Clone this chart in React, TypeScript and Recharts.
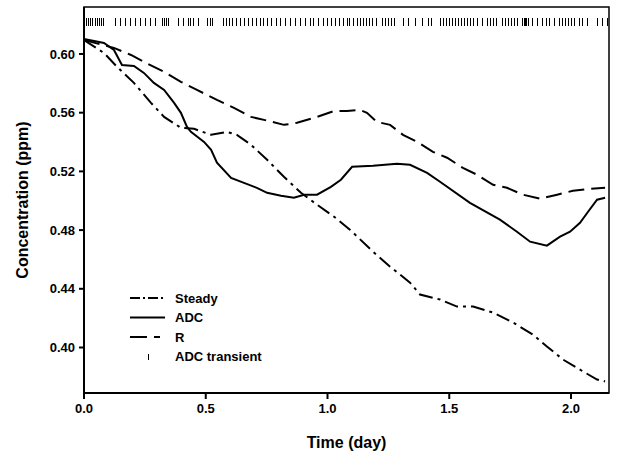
import React from "react";
import {
  ComposedChart,
  Line,
  Scatter,
  XAxis,
  YAxis,
  ReferenceArea,
  Legend,
  Label,
} from "recharts";

// Steady (dash-dot)
const steadyTime = [0, 0.082, 0.136, 0.205, 0.275, 0.329, 0.398, 0.452, 0.522, 0.587, 0.628, 0.686, 0.752, 0.821, 0.891, 0.957, 1.027, 1.092, 1.187, 1.257, 1.339, 1.38, 1.462, 1.532, 1.598, 1.68, 1.762, 1.844, 1.901, 1.967, 2.049, 2.107, 2.14];
const steadyConc = [0.6095, 0.6007, 0.5912, 0.5803, 0.5667, 0.5571, 0.5497, 0.549, 0.5449, 0.5469, 0.5449, 0.5381, 0.5279, 0.5163, 0.5054, 0.4973, 0.4891, 0.4803, 0.4653, 0.4551, 0.4442, 0.4361, 0.4327, 0.4279, 0.4279, 0.4238, 0.417, 0.4088, 0.4007, 0.3918, 0.3837, 0.3782, 0.3769];

// ADC (solid)
const adcTime = [0, 0.082, 0.123, 0.156, 0.205, 0.246, 0.287, 0.329, 0.37, 0.398, 0.423, 0.439, 0.493, 0.522, 0.546, 0.604, 0.657, 0.71, 0.752, 0.809, 0.862, 0.904, 0.957, 1.014, 1.055, 1.101, 1.187, 1.285, 1.339, 1.409, 1.462, 1.585, 1.708, 1.778, 1.832, 1.901, 1.955, 1.996, 2.037, 2.07, 2.107, 2.14];
const adcConc = [0.6102, 0.6075, 0.6027, 0.5925, 0.5918, 0.5871, 0.5803, 0.5755, 0.5667, 0.5599, 0.5503, 0.5469, 0.5401, 0.5347, 0.5259, 0.5156, 0.5122, 0.5088, 0.5054, 0.5034, 0.502, 0.5041, 0.5041, 0.5095, 0.5143, 0.5231, 0.5238, 0.5252, 0.5245, 0.519, 0.5129, 0.4986, 0.4871, 0.4789, 0.4721, 0.4694, 0.4755, 0.4789, 0.485, 0.4925, 0.5007, 0.502];

// R (dashed)
const rTime = [0, 0.123, 0.193, 0.246, 0.329, 0.398, 0.464, 0.546, 0.616, 0.686, 0.739, 0.821, 0.875, 0.957, 1.027, 1.08, 1.133, 1.162, 1.203, 1.257, 1.31, 1.368, 1.433, 1.491, 1.556, 1.614, 1.68, 1.737, 1.803, 1.873, 1.943, 2.008, 2.078, 2.14];
const rConc = [0.6095, 0.6041, 0.5993, 0.5946, 0.5878, 0.581, 0.5755, 0.5687, 0.5633, 0.5571, 0.5551, 0.5517, 0.5531, 0.5571, 0.5612, 0.5612, 0.5619, 0.5599, 0.5537, 0.5517, 0.5449, 0.5401, 0.5333, 0.5293, 0.5224, 0.5177, 0.5109, 0.5088, 0.5041, 0.5014, 0.5041, 0.5068, 0.5082, 0.5088];

// ADC transient event times (drawn as ticks along the top)
const transientTime = [
  0, 0.008, 0.016, 0.025, 0.033, 0.045, 0.053, 0.062, 0.07, 0.078,
  0.127, 0.148, 0.168, 0.189, 0.209, 0.23, 0.251, 0.271, 0.292,
  0.32, 0.329, 0.337, 0.345, 0.386, 0.407, 0.427, 0.435, 0.448, 0.468,
  0.505, 0.517, 0.526, 0.571, 0.583, 0.595, 0.608, 0.624, 0.641, 0.657, 0.674,
  0.69, 0.706, 0.723, 0.735, 0.752, 0.768, 0.789, 0.805, 0.825, 0.846, 0.867,
  0.887, 0.908, 0.928, 0.94, 0.961, 0.982, 0.998, 1.014, 1.031, 1.047, 1.064,
  1.08, 1.088, 1.105, 1.121, 1.133, 1.145, 1.158, 1.17, 1.183, 1.199,
  1.224, 1.236, 1.248, 1.261, 1.273, 1.31, 1.331, 1.359, 1.388, 1.413, 1.425,
  1.462, 1.474, 1.487, 1.499, 1.511, 1.524, 1.536, 1.548, 1.561, 1.573, 1.585, 1.598,
  1.614, 1.634, 1.655, 1.667, 1.68, 1.692, 1.717, 1.729, 1.741, 1.754, 1.766, 1.778,
  1.799, 1.805, 1.811, 1.817, 1.823, 1.84, 1.86, 1.881, 1.897, 1.91, 1.93,
  1.951, 1.963, 1.975, 1.988, 2.0, 2.012, 2.033, 2.045, 2.066, 2.107, 2.127, 2.148,
];
const transientLevel = 0.6215;

const xTicks = [0, 0.5, 1.0, 1.5, 2.0];
const yTicks = [0.4, 0.44, 0.48, 0.52, 0.56, 0.6];
const xDomain = [0, 2.156];
const yDomain = [0.369, 0.632];

const steadyData = steadyTime.map((t, i) => ({ t, c: steadyConc[i] }));
const adcData = adcTime.map((t, i) => ({ t, c: adcConc[i] }));
const rData = rTime.map((t, i) => ({ t, c: rConc[i] }));
const transientData = transientTime.map((t) => ({ t, c: transientLevel }));

const FONT = "Arial, 'Liberation Sans', sans-serif";
const STEADY_DASH = "14 5 3 5";
const R_DASH = "16 7";

const TransientTick = (props: any) => {
  const { cx, cy } = props;
  if (cx == null || cy == null) return null;
  const x = Math.round(cx) + 0.5;
  return (
    <line
      x1={x}
      x2={x}
      y1={Math.round(cy) - 4}
      y2={Math.round(cy) + 4}
      stroke="#000"
      strokeWidth={1}
      shapeRendering="crispEdges"
    />
  );
};

const legendRows = [
  { name: "Steady", dash: "10 3 2 3" },
  { name: "ADC", dash: undefined },
  { name: "R", dash: "17 7 6 100" },
  { name: "ADC transient", dash: "tick" },
];

const renderLegend = () => (
  <svg width={180} height={80} style={{ display: "block" }}>
    {legendRows.map((row, i) => {
      const y = 9 + i * 19.5;
      return (
        <g key={row.name}>
          {row.dash === "tick" ? (
            <line x1={23.5} x2={23.5} y1={y - 3} y2={y + 3} stroke="#000" strokeWidth={1} shapeRendering="crispEdges" />
          ) : (
            <line x1={5} x2={40} y1={y} y2={y} stroke="#000" strokeWidth={2} strokeDasharray={row.dash} />
          )}
          <text x={50} y={y + 4.5} fontFamily={FONT} fontWeight="bold" fontSize={13} fill="#000">
            {row.name}
          </text>
        </g>
      );
    })}
  </svg>
);

export default function App() {
  return (
    <div style={{ position: "absolute", left: 0, top: 0, background: "#fff" }}>
      <ComposedChart
        width={619}
        height={461}
        margin={{ top: 7, right: 10, bottom: 0, left: 0 }}
        style={{ fontFamily: FONT }}
      >
        <XAxis
          type="number"
          dataKey="t"
          domain={xDomain}
          ticks={xTicks}
          tickFormatter={(v: number) => v.toFixed(1)}
          allowDataOverflow
          height={68}
          tickSize={6}
          tickMargin={5}
          stroke="#000"
          strokeWidth={2}
          tick={{ fill: "#000", fontSize: 13, fontWeight: "bold", fontFamily: FONT }}
        >
          <Label
            value="Time (day)"
            position="insideBottom"
            offset={13}
            style={{ fill: "#000", fontSize: 16, fontWeight: "bold", fontFamily: FONT }}
          />
        </XAxis>
        <YAxis
          type="number"
          dataKey="c"
          domain={yDomain}
          ticks={yTicks}
          tickFormatter={(v: number) => v.toFixed(2)}
          allowDataOverflow
          width={84}
          tickSize={5}
          tickMargin={4}
          stroke="#000"
          strokeWidth={2}
          tick={{ fill: "#000", fontSize: 13, fontWeight: "bold", fontFamily: FONT }}
        >
          <Label
            content={() => (
              <text
                x={22}
                y={200}
                transform="rotate(-90 22 200)"
                textAnchor="middle"
                dominantBaseline="central"
                fontFamily={FONT}
                fontWeight="bold"
                fontSize={16}
                fill="#000"
              >
                Concentration (ppm)
              </text>
            )}
          />
        </YAxis>
        <ReferenceArea
          x1={xDomain[0]}
          x2={xDomain[1]}
          y1={yDomain[0]}
          y2={yDomain[1]}
          fill="none"
          stroke="#000"
          strokeWidth={1.5}
          ifOverflow="extendDomain"
        />
        <Line
          data={steadyData}
          dataKey="c"
          name="Steady"
          type="linear"
          stroke="#000"
          strokeWidth={2}
          strokeDasharray={STEADY_DASH}
          dot={false}
          isAnimationActive={false}
        />
        <Line
          data={adcData}
          dataKey="c"
          name="ADC"
          type="linear"
          stroke="#000"
          strokeWidth={2}
          dot={false}
          isAnimationActive={false}
        />
        <Line
          data={rData}
          dataKey="c"
          name="R"
          type="linear"
          stroke="#000"
          strokeWidth={2}
          strokeDasharray={R_DASH}
          dot={false}
          isAnimationActive={false}
        />
        <Scatter
          data={transientData}
          dataKey="c"
          name="ADC transient"
          shape={<TransientTick />}
          isAnimationActive={false}
        />
        <Legend
          content={renderLegend}
          layout="vertical"
          align="center"
          verticalAlign="middle"
          wrapperStyle={{ left: 125, top: 289, width: 180, height: 80 }}
        />
      </ComposedChart>
    </div>
  );
}
